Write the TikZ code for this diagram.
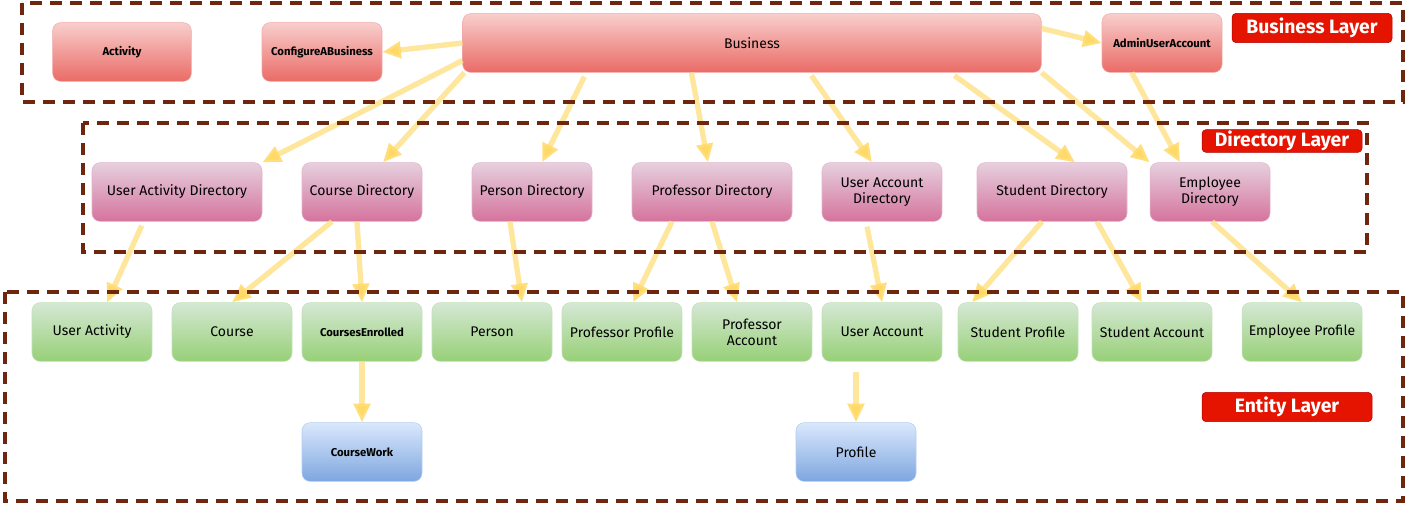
\documentclass[tikz,border=0pt]{standalone}
\usepackage{fontspec}
\setmainfont{Fira Sans}
\usetikzlibrary{arrows.meta, positioning, calc}
\definecolor{framebrown}{RGB}{110,38,14}
\definecolor{biztop}{RGB}{248,206,204}
\definecolor{bizbot}{RGB}{234,107,102}
\definecolor{bizline}{RGB}{240,170,168}
\definecolor{dirtop}{RGB}{230,208,222}
\definecolor{dirbot}{RGB}{213,115,157}
\definecolor{dirline}{RGB}{225,180,205}
\definecolor{enttop}{RGB}{213,232,212}
\definecolor{entbot}{RGB}{151,208,119}
\definecolor{entline}{RGB}{195,225,185}
\definecolor{wrktop}{RGB}{218,232,252}
\definecolor{wrkbot}{RGB}{126,166,224}
\definecolor{wrkline}{RGB}{180,205,240}
\definecolor{arrbody}{RGB}{255,226,140}
\definecolor{arrhead}{RGB}{255,217,102}
\definecolor{lblred}{RGB}{229,20,0}
\definecolor{lblline}{RGB}{178,0,0}

\begin{document}
\begin{tikzpicture}[
  x=0.75pt, y=-0.75pt,
  box/.style={rounded corners=6pt, minimum width=90pt, minimum height=44pt, inner sep=2pt, align=center, font=\fontsize{10.5}{12}\selectfont},
  tiny/.style={font=\bfseries\fontsize{8.5}{10}\selectfont},
  biz/.style={box, draw=bizline, top color=biztop, bottom color=bizbot},
  dir/.style={box, draw=dirline, top color=dirtop, bottom color=dirbot},
  ent/.style={box, draw=entline, top color=enttop, bottom color=entbot},
  wrk/.style={box, draw=wrkline, top color=wrktop, bottom color=wrkbot},
  layerlbl/.style={draw=lblline, fill=lblred, rounded corners=3pt, text=white, inner sep=0pt, minimum width=120pt, minimum height=22pt, font=\bfseries\fontsize{14.5}{16}\selectfont},
  layer/.style={draw=framebrown, line width=2.3pt, dash pattern=on 9pt off 6pt},
  arr/.style={draw=arrbody, draw opacity=0.85, line width=4pt, -{Triangle[length=14pt, width=12pt, color=arrhead, fill=arrhead]}}
]
\useasboundingbox (0,0) rectangle (1409,506);

% business layer
\node[biz, tiny, minimum width=104pt] (act) at (122,52) {Activity};
\node[biz, tiny] (cfg) at (322,52) {ConfigureABusiness};
\node[biz, minimum width=434pt] (bus) at (752,43) {Business};
\node[biz, tiny] (admin) at (1162,43) {AdminUserAccount};
\node[layerlbl] (bizlbl) at (1312,28) {Business Layer};

% directory layer
\node[dir, minimum width=127.5pt] (uad) at (177,192) {User Activity Directory};
\node[dir] (cdir) at (362,192) {Course Directory};
\node[dir] (pdir) at (532,192) {Person Directory};
\node[dir, minimum width=120pt] (profdir) at (712,192) {Professor Directory};
\node[dir] (uadir) at (882,192) {User Account\\Directory};
\node[dir, minimum width=112.5pt] (sdir) at (1052,192) {Student Directory};
\node[dir] (edir) at (1210,192) {Employee\\Directory};
\node[layerlbl, minimum height=17pt] (dirlbl) at (1282,141) {Directory Layer};

% entity layer
\node[ent] (ua) at (92,332) {User Activity};
\node[ent] (course) at (232,332) {Course};
\node[ent, tiny] (cenr) at (362,332) {CoursesEnrolled};
\node[ent] (person) at (492,332) {Person};
\node[ent] (profprof) at (622,332) {Professor Profile};
\node[ent] (profacc) at (752,332) {Professor\\Account};
\node[ent] (uacc) at (882,332) {User Account};
\node[ent] (sprof) at (1018,332) {Student Profile};
\node[ent] (sacc) at (1152,332) {Student Account};
\node[ent] (eprof) at (1302,332) {Employee Profile};
\node[wrk, tiny] (cwork) at (362,452) {CourseWork};
\node[wrk] (profile) at (856,452) {Profile};
\node[layerlbl, minimum width=127.5pt] (entlbl) at (1287,407) {Entity Layer};

% connectors
\draw[arr] (bus.west) -- (cfg.east);
\draw[arr] ($(bus.north east)+(0,15)$) -- (admin.west);
\draw[arr] ($(bus.south west)+(0,-12)$) -- (uad.north east);
\draw[arr] ($(bus.south west)+(2,0)$) -- ($(cdir.north)+(21,0)$);
\draw[arr] ($(bus.south west)+(122,4)$) -- ($(pdir.north)+(10,0)$);
\draw[arr] ($(bus.south west)+(229,0)$) -- ($(profdir.north)+(-4,0)$);
\draw[arr] ($(bus.south west)+(349,3)$) -- ($(uadir.north)+(-10,0)$);
\draw[arr] ($(bus.south west)+(492,3)$) -- ($(sdir.north)+(23,0)$);
\draw[arr] (bus.south east) -- (edir.north west);
\draw[arr] ($(admin.south west)+(30,0)$) -- ($(edir.north)+(-30,0)$);
\draw[arr] ($(uad.south west)+(50,4)$) -- ($(ua.north)+(15,0)$);
\draw[arr] ($(cdir.south)+(-30,0)$) -- (course.north);
\draw[arr] ($(cdir.south)+(-5,0)$) -- (cenr.north);
\draw[arr] ($(pdir.south)+(-22,0)$) -- ($(person.north)+(30,0)$);
\draw[arr] ($(profdir.south)+(-40,0)$) -- ($(profprof.north)+(11,0)$);
\draw[arr] (profdir.south) -- ($(profacc.north)+(-15,0)$);
\draw[arr] ($(uadir.south)+(-15,5)$) -- (uacc.north);
\draw[arr] ($(sdir.south)+(-10,0)$) -- ($(sprof.north)+(-46,0)$);
\draw[arr] ($(sdir.south)+(45,0)$) -- ($(sacc.north)+(-10,0)$);
\draw[arr] ($(edir.south)+(2,0)$) -- (eprof.north);
\draw[arr] (cenr.south) -- (cwork.north);
\draw[arr] ($(uacc.south)+(-26,10)$) -- (profile.north);

% layer frames
\draw[layer] (22,3) rectangle (1403,102);
\draw[layer] (83,123) rectangle (1367,252);
\draw[layer] (5,292) rectangle (1403,501);
\end{tikzpicture}
\end{document}
